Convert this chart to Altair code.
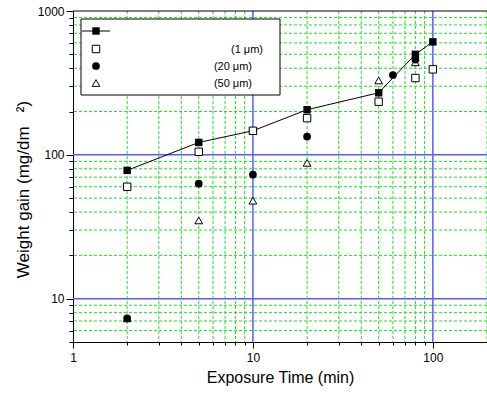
import altair as alt
import pandas as pd

# --- data ---
time_a = [2, 5, 10, 20, 50, 80, 100]          # filled squares (connected)
gain_a = [78, 122, 147, 206, 270, 500, 610]
time_b = [2, 5, 10, 20, 50, 80, 100]          # open squares (1 um)
gain_b = [60, 105, 147, 180, 234, 342, 393]
time_c = [2, 5, 10, 20, 60, 80]               # filled circles (20 um)
gain_c = [7.3, 63, 73, 134, 359, 460]
time_d = [2, 5, 10, 20, 50, 80]               # open triangles (50 um)
gain_d = [7.3, 35, 48, 88, 329, 440]

x_domain = [1, 200]
y_domain = [5, 1000]
x_major = [10, 100]
x_minor = [2, 3, 4, 5, 6, 7, 8, 9, 20, 30, 40, 50, 60, 70, 80, 90, 200]
y_major = [10, 100]
y_minor = [6, 7, 8, 9, 20, 30, 40, 50, 60, 70, 80, 90, 200, 300, 400, 500, 600, 700, 800, 900]
x_labels = [1, 10, 100]
y_labels = [10, 100, 1000]
x_ticks = [1, 2, 3, 4, 5, 6, 7, 8, 9, 10, 20, 30, 40, 50, 60, 70, 80, 90, 100, 200]
y_ticks = [5, 6, 7, 8, 9, 10, 20, 30, 40, 50, 60, 70, 80, 90, 100,
           200, 300, 400, 500, 600, 700, 800, 900, 1000]
legend_labels = ["", "(1 \u03bcm)", "(20 \u03bcm)", "(50 \u03bcm)"]

FONT = "Liberation Sans"
GREEN = "#19e619"
BLUE = "#5a5aff"

xs = alt.Scale(type="log", domain=x_domain, nice=False)
ys = alt.Scale(type="log", domain=y_domain, nice=False)

x_axis = alt.Axis(
    values=x_ticks,
    labelExpr="indexof(%s, datum.value) >= 0 ? datum.label : ''" % str(x_labels),
    format="d", grid=False, labelOverlap=False, labelFlush=False,
    tickSize={"condition": {"test": "indexof(%s, datum.value) >= 0" % str(x_labels), "value": 6}, "value": 3},
    domainColor="black", tickColor="black", labelColor="black", titleColor="black",
    labelFont=FONT, titleFont=FONT, labelFontSize=12, titleFontSize=16,
    titleFontWeight="normal", labelPadding=4, titlePadding=6,
    title="Exposure Time (min)",
)
y_axis = alt.Axis(
    values=y_ticks,
    labelExpr="indexof(%s, datum.value) >= 0 ? datum.label : ''" % str(y_labels),
    format="d", grid=False, labelOverlap=False, labelFlush=False,
    tickSize={"condition": {"test": "indexof(%s, datum.value) >= 0" % str(y_labels), "value": 7}, "value": 4},
    domainColor="black", tickColor="black", labelColor="black", titleColor="black",
    labelFont=FONT, titleFont=FONT, labelFontSize=12, titleFontSize=17,
    titleFontWeight="normal", labelPadding=2, titlePadding=5, titleY=178,
    title="Weight gain (mg/dm\u00a0\u00a0\u00a0\u00b2)",
)


def X():
    return alt.X("t:Q", scale=xs, axis=x_axis)


def Y():
    return alt.Y("g:Q", scale=ys, axis=y_axis)


def df(t, g):
    return pd.DataFrame({"t": t, "g": g})


# gridlines
gx_minor = alt.Chart(pd.DataFrame({"t": x_minor})).mark_rule(
    color=GREEN, strokeWidth=1, strokeDash=[3, 2]).encode(x=X())
gy_minor = alt.Chart(pd.DataFrame({"g": y_minor})).mark_rule(
    color=GREEN, strokeWidth=1, strokeDash=[3, 2]).encode(y=Y())
gx_major = alt.Chart(pd.DataFrame({"t": x_major})).mark_rule(
    color=BLUE, strokeWidth=1.5).encode(x=X())
gy_major = alt.Chart(pd.DataFrame({"g": y_major})).mark_rule(
    color=BLUE, strokeWidth=1.5).encode(y=Y())
top_border = alt.Chart(pd.DataFrame({"g": [y_domain[1]]})).mark_rule(
    color="black", strokeWidth=1).encode(y=Y())

# series
tri = alt.Chart(df(time_d, gain_d)).mark_point(
    shape="triangle-up", filled=True, fill="white", stroke="black", strokeWidth=1,
    opacity=1, size=60).encode(x=X(), y=Y())
circ = alt.Chart(df(time_c, gain_c)).mark_circle(
    color="black", opacity=1, size=60).encode(x=X(), y=Y())
line_a = alt.Chart(df(time_a, gain_a)).mark_line(
    color="black", strokeWidth=1).encode(x=X(), y=Y())
sq_a = alt.Chart(df(time_a, gain_a)).mark_square(
    color="black", opacity=1, size=55).encode(x=X(), y=Y())
sq_b = alt.Chart(df(time_b, gain_b)).mark_square(
    fill="white", stroke="black", strokeWidth=1, opacity=1, size=55).encode(x=X(), y=Y())

# legend (drawn in plot-pixel space)
one = pd.DataFrame({"k": [0]})
leg_box = alt.Chart(one).mark_rect(fill="white", stroke="black", strokeWidth=1).encode(
    x=alt.value(8), x2=alt.value(207), y=alt.value(8), y2=alt.value(84))
leg_line = alt.Chart(one).mark_rule(color="black", strokeWidth=1).encode(
    x=alt.value(9), x2=alt.value(37), y=alt.value(20))
leg_s1 = alt.Chart(one).mark_square(color="black", opacity=1, size=55).encode(
    x=alt.value(23), y=alt.value(20))
leg_s2 = alt.Chart(one).mark_square(fill="white", stroke="black", strokeWidth=1, opacity=1, size=55).encode(
    x=alt.value(23), y=alt.value(38))
leg_s3 = alt.Chart(one).mark_circle(color="black", opacity=1, size=60).encode(
    x=alt.value(23), y=alt.value(55))
leg_s4 = alt.Chart(one).mark_point(shape="triangle-up", filled=True, fill="white", stroke="black",
                                   strokeWidth=1, opacity=1, size=60).encode(x=alt.value(23), y=alt.value(72))
leg_texts = []
for lbl, xx, yy in zip(legend_labels[1:], [190, 179, 179], [39, 56, 73]):
    leg_texts.append(alt.Chart(one).mark_text(
        align="right", baseline="middle", font=FONT, fontSize=11, color="black").encode(
        x=alt.value(xx), y=alt.value(yy), text=alt.value(lbl)))

chart = alt.layer(
    gy_minor, gx_minor, gy_major, gx_major, top_border,
    tri, circ, line_a, sq_a, sq_b,
    leg_box, leg_line, leg_s1, leg_s2, leg_s3, leg_s4, *leg_texts,
).properties(
    width=414, height=331,
    padding={"left": 73, "top": 11, "right": 0, "bottom": 54},
    autosize="none", background="white",
).configure_view(stroke=None)

chart.save("out.html", embed_options={"renderer": "svg", "actions": False})
